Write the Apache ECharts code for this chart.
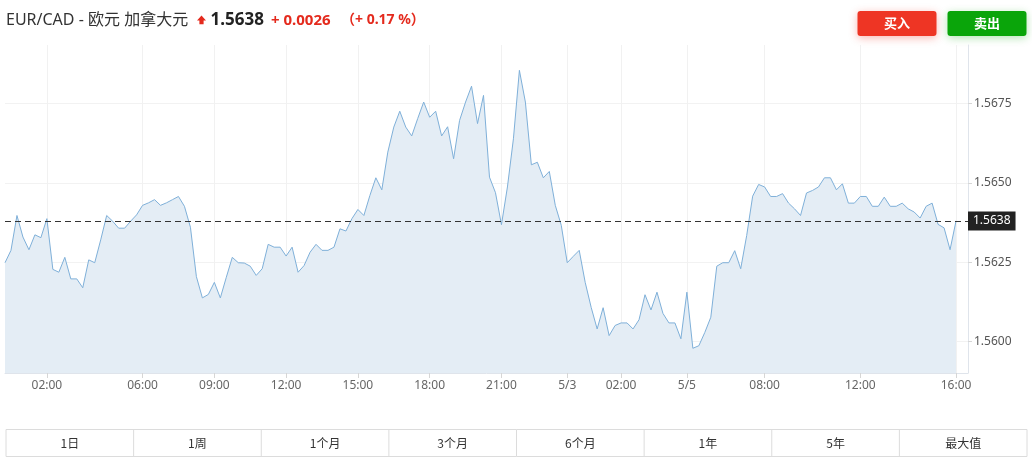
<!DOCTYPE html>
<html>
<head>
<meta charset="utf-8">
<script src="https://cdn.jsdelivr.net/npm/echarts@6/dist/echarts.min.js"></script>
<style>
  html, body { margin: 0; padding: 0; background: #fff; }
  #chart { width: 1032px; height: 465px; }
</style>
</head>
<body>
<div id="chart"></div>
<script>
// ---- data ----
const pairTitle = 'EUR/CAD - 欧元 加拿大元';
const lastPrice = 1.5638;
const changeText = '+ 0.0026';
const changePctText = '（+ 0.17 %）';

const prices = [
  1.56248, 1.56287, 1.56397, 1.56329, 1.56289, 1.56336, 1.56327, 1.56387, 1.56227, 1.56218,
  1.56265, 1.56197, 1.56197, 1.56169, 1.56257, 1.56248, 1.56320, 1.56397, 1.56379, 1.56357,
  1.56357, 1.56379, 1.56399, 1.56429, 1.56437, 1.56447, 1.56429, 1.56437, 1.56447, 1.56457,
  1.56426, 1.56360, 1.56204, 1.56137, 1.56148, 1.56186, 1.56137, 1.56202, 1.56265, 1.56248,
  1.56247, 1.56237, 1.56208, 1.56229, 1.56306, 1.56297, 1.56297, 1.56269, 1.56297, 1.56218,
  1.56239, 1.56281, 1.56306, 1.56287, 1.56287, 1.56297, 1.56355, 1.56348, 1.56387, 1.56416,
  1.56397, 1.56460, 1.56516, 1.56478, 1.56597, 1.56676, 1.56726, 1.56676, 1.56648, 1.56703,
  1.56755, 1.56707, 1.56726, 1.56648, 1.56677, 1.56576, 1.56697, 1.56755, 1.56805, 1.56687,
  1.56776, 1.56518, 1.56469, 1.56368, 1.56487, 1.56639, 1.56855, 1.56755, 1.56557, 1.56565,
  1.56516, 1.56536, 1.56429, 1.56366, 1.56248, 1.56268, 1.56287, 1.56186, 1.56107, 1.56039,
  1.56106, 1.56018, 1.56050, 1.56058, 1.56058, 1.56039, 1.56068, 1.56147, 1.56099, 1.56155,
  1.56088, 1.56058, 1.56058, 1.56008, 1.56155, 1.55978, 1.55986, 1.56028, 1.56076, 1.56237,
  1.56248, 1.56248, 1.56286, 1.56229, 1.56334, 1.56458, 1.56495, 1.56487, 1.56457, 1.56457,
  1.56466, 1.56436, 1.56418, 1.56397, 1.56468, 1.56476, 1.56487, 1.56516, 1.56516, 1.56478,
  1.56497, 1.56436, 1.56436, 1.56457, 1.56457, 1.56426, 1.56426, 1.56455, 1.56426, 1.56426,
  1.56436, 1.56418, 1.56408, 1.56389, 1.56426, 1.56436, 1.56369, 1.56358, 1.56289, 1.5638
];

// x tick labels and the category index they belong to
const xTickIndex  = [7, 23, 35, 47, 59, 71, 83, 94, 103, 114, 127, 143, 159];
const xTickLabels = ['02:00', '06:00', '09:00', '12:00', '15:00', '18:00', '21:00', '5/3', '02:00', '5/5', '08:00', '12:00', '16:00'];

// y tick values
const yTicks = [1.5600, 1.5625, 1.5650, 1.5675];
const yMin = 1.5590;
const yMax = 1.56935;

// range selector buttons
const rangeLabels = ['1日', '1周', '1个月', '3个月', '6个月', '1年', '5年', '最大值'];
const buyLabel = '买入';
const sellLabel = '卖出';

// ---- build ----
const extraSlots = 2;
const categories = Array.from({ length: prices.length + extraSlots }, (_, i) => String(i));
const tickMap = {};
xTickIndex.forEach((idx, i) => { tickMap[idx] = xTickLabels[i]; });
const isTick = (idx) => Object.prototype.hasOwnProperty.call(tickMap, idx);

const FONT = '"Noto Sans", "Noto Sans CJK SC", sans-serif';
const CJK = '"Noto Sans CJK SC", "Noto Sans", sans-serif';

const chart = echarts.init(document.getElementById('chart'), null, { renderer: 'canvas' });

// range row graphics
const rowLeft = 6, rowRight = 1027, rowTop = 429.5, rowH = 27;
const cellW = (rowRight - rowLeft) / rangeLabels.length;
const rowGraphics = [{
  type: 'rect',
  shape: { x: rowLeft, y: rowTop, width: rowRight - rowLeft, height: rowH },
  style: { fill: '#fff', stroke: '#dcdcdc', lineWidth: 1 }
}];
rangeLabels.forEach((lab, i) => {
  if (i > 0) {
    rowGraphics.push({
      type: 'line',
      shape: { x1: rowLeft + cellW * i, y1: rowTop, x2: rowLeft + cellW * i, y2: rowTop + rowH },
      style: { stroke: '#dcdcdc', lineWidth: 1 }
    });
  }
  rowGraphics.push({
    type: 'text',
    x: rowLeft + cellW * (i + 0.5),
    y: rowTop + rowH / 2,
    style: { text: lab, fill: '#333', font: '12px ' + CJK, textAlign: 'center', textVerticalAlign: 'middle' }
  });
});

const option = {
  animation: false,
  backgroundColor: '#fff',
  grid: { left: 5, right: 64, top: 45, bottom: 92, containLabel: false },
  xAxis: {
    type: 'category',
    data: categories,
    boundaryGap: false,
    axisLine: { show: true, lineStyle: { color: '#dfe4eb', width: 1 } },
    axisTick: {
      show: true, length: 5,
      interval: (idx) => isTick(idx),
      lineStyle: { color: '#d6d6d6' }
    },
    axisLabel: {
      interval: (idx) => isTick(idx),
      formatter: (v, idx) => tickMap[idx] || '',
      color: '#666', fontSize: 12, fontFamily: FONT, margin: 7
    },
    splitLine: {
      show: true,
      interval: (idx) => isTick(idx),
      lineStyle: { color: '#f1f1f1', width: 1 }
    }
  },
  yAxis: {
    type: 'value',
    position: 'right',
    min: yMin,
    max: yMax,
    scale: true,
    axisLine: { show: true, lineStyle: { color: '#dfe4eb', width: 1 } },
    axisTick: { show: true, length: 4, customValues: yTicks, lineStyle: { color: '#d6d6d6' } },
    axisLabel: {
      customValues: yTicks,
      formatter: (v) => v.toFixed(4),
      color: '#555', fontSize: 12, fontFamily: FONT, margin: 6
    },
    splitLine: { show: true, lineStyle: { color: '#f2f2f2', width: 1 } }
  },
  series: [{
    type: 'line',
    data: prices,
    symbol: 'none',
    smooth: false,
    lineStyle: { color: '#7fb0d9', width: 1 },
    areaStyle: { color: '#e4edf5', opacity: 1 },
    markLine: {
      silent: true,
      precision: 4,
      symbol: ['none', 'none'],
      lineStyle: { color: '#333', type: [6, 4], width: 1 },
      label: {
        show: true,
        position: 'end',
        distance: 0,
        formatter: () => lastPrice.toFixed(4),
        backgroundColor: '#222',
        color: '#fff',
        fontSize: 12,
        fontFamily: FONT,
        padding: [3, 5, 2, 5],
        lineHeight: 14
      },
      data: [{ yAxis: lastPrice }]
    }
  }],
  graphic: [
    {
      type: 'text', x: 6, y: 20,
      style: { text: pairTitle, fill: '#333', font: '16px ' + FONT, textVerticalAlign: 'middle' }
    },
    {
      type: 'polygon',
      shape: { points: [[201.5, 15.5], [206, 20.5], [203.6, 20.5], [203.6, 24.2], [199.4, 24.2], [199.4, 20.5], [197, 20.5]] },
      style: { fill: '#e42a1d' }
    },
    {
      type: 'text', x: 210.5, y: 20,
      style: { text: lastPrice.toFixed(4), fill: '#222', font: 'bold 17px ' + FONT, textVerticalAlign: 'middle' }
    },
    {
      type: 'text', x: 271, y: 20.5,
      style: { text: changeText, fill: '#e42a1d', font: 'bold 15px ' + FONT, textVerticalAlign: 'middle' }
    },
    {
      type: 'text', x: 341, y: 20.5,
      style: { text: changePctText, fill: '#e42a1d', font: 'bold 14px ' + FONT, textVerticalAlign: 'middle' }
    },
    {
      type: 'rect',
      shape: { x: 857.5, y: 11, width: 79, height: 25, r: 3 },
      style: { fill: '#ee3524', shadowBlur: 8, shadowColor: 'rgba(238,53,36,0.35)', shadowOffsetY: 2 }
    },
    {
      type: 'text', x: 897, y: 23.5,
      style: { text: buyLabel, fill: '#fff', font: 'bold 13px ' + CJK, textAlign: 'center', textVerticalAlign: 'middle' }
    },
    {
      type: 'rect',
      shape: { x: 947.5, y: 11, width: 79, height: 25, r: 3 },
      style: { fill: '#0aa50a', shadowBlur: 8, shadowColor: 'rgba(10,165,10,0.3)', shadowOffsetY: 2 }
    },
    {
      type: 'text', x: 987, y: 23.5,
      style: { text: sellLabel, fill: '#fff', font: 'bold 13px ' + CJK, textAlign: 'center', textVerticalAlign: 'middle' }
    }
  ].concat(rowGraphics)
};

chart.setOption(option);
</script>
</body>
</html>
